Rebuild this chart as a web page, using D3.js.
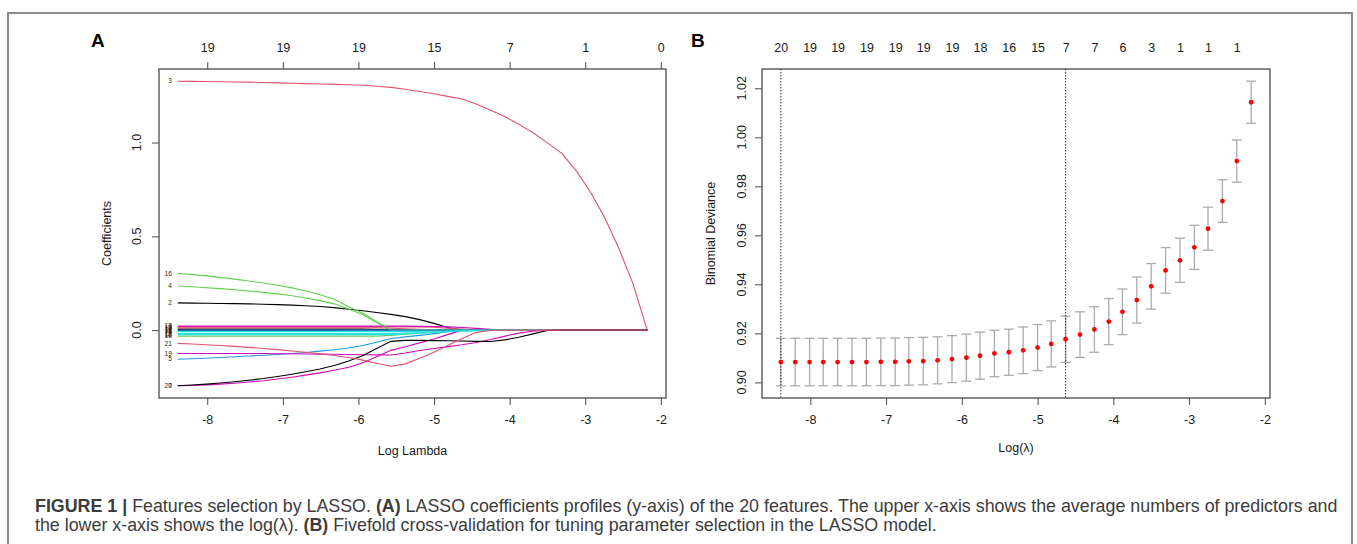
<!DOCTYPE html>
<html>
<head>
<meta charset="utf-8">
<script src="https://cdn.jsdelivr.net/npm/d3@7"></script>
<style>
  html, body { margin: 0; padding: 0; background: #fff; }
  svg { display: block; }
</style>
</head>
<body>
<svg id="fig" width="1357" height="544"></svg>
<script>
// ---- lambda path shared by the coefficient profiles and the CV curve ----
const logLambda = [-8.39, -8.20, -8.01, -7.83, -7.64, -7.45, -7.26, -7.07, -6.88, -6.70,
  -6.51, -6.32, -6.13, -5.94, -5.76, -5.57, -5.38, -5.19, -5.00, -4.82,
  -4.63, -4.44, -4.25, -4.06, -3.88, -3.69, -3.50, -3.31, -3.12, -2.93,
  -2.75, -2.56, -2.37, -2.18];

// ---- panel A: coefficient profiles, one array per feature ----
const coef2  = [0.145, 0.144, 0.143, 0.142, 0.141, 0.140, 0.138, 0.136, 0.133, 0.130, 0.126, 0.120, 0.111, 0.103, 0.094, 0.084, 0.072, 0.056, 0.036, 0.014, 0, 0, 0, 0, 0, 0, 0, 0, 0, 0, 0, 0, 0, 0];
const coef3  = [1.327, 1.326, 1.325, 1.324, 1.323, 1.322, 1.320, 1.318, 1.316, 1.314, 1.312, 1.310, 1.308, 1.305, 1.300, 1.294, 1.284, 1.272, 1.260, 1.246, 1.232, 1.205, 1.172, 1.137, 1.098, 1.052, 0.998, 0.942, 0.850, 0.735, 0.605, 0.440, 0.249, 0];
const coef4  = [0.235, 0.231, 0.226, 0.221, 0.215, 0.208, 0.201, 0.193, 0.183, 0.171, 0.157, 0.140, 0.112, 0.082, 0.040, 0, 0, 0, 0, 0, 0, 0, 0, 0, 0, 0, 0, 0, 0, 0, 0, 0, 0, 0];
const coef5  = [-0.155, -0.153, -0.150, -0.146, -0.142, -0.138, -0.134, -0.130, -0.125, -0.119, -0.112, -0.105, -0.095, -0.082, -0.065, -0.045, -0.036, -0.028, -0.019, -0.009, 0, 0, 0, 0, 0, 0, 0, 0, 0, 0, 0, 0, 0, 0];
const coef6  = [-0.008, -0.008, -0.008, -0.008, -0.008, -0.008, -0.008, -0.008, -0.008, -0.008, -0.008, -0.008, -0.008, -0.008, -0.008, -0.008, -0.008, -0.007, -0.006, -0.005, -0.004, -0.003, -0.002, -0.001, 0, 0, 0, 0, 0, 0, 0, 0, 0, 0];
const coef7  = [-0.297, -0.295, -0.292, -0.288, -0.283, -0.277, -0.270, -0.261, -0.251, -0.240, -0.228, -0.214, -0.198, -0.174, -0.142, -0.108, -0.089, -0.068, -0.047, -0.024, 0, 0, 0, 0, 0, 0, 0, 0, 0, 0, 0, 0, 0, 0];
const coef8  = [-0.002, -0.002, -0.002, -0.002, -0.002, -0.002, -0.002, -0.002, -0.002, -0.002, -0.002, -0.002, -0.001, 0, 0, 0, 0, 0, 0, 0, 0, 0, 0, 0, 0, 0, 0, 0, 0, 0, 0, 0, 0, 0];
const coef9  = [0.017, 0.017, 0.017, 0.017, 0.017, 0.017, 0.017, 0.017, 0.017, 0.017, 0.017, 0.017, 0.017, 0.017, 0.017, 0.017, 0.017, 0.017, 0.015, 0.010, 0.005, 0, 0, 0, 0, 0, 0, 0, 0, 0, 0, 0, 0, 0];
const coef10 = [-0.032, -0.032, -0.032, -0.032, -0.032, -0.032, -0.032, -0.032, -0.032, -0.032, -0.032, -0.032, -0.032, -0.032, -0.032, -0.028, -0.022, -0.016, -0.010, -0.005, -0.001, 0, 0, 0, 0, 0, 0, 0, 0, 0, 0, 0, 0, 0];
const coef11 = [0.003, 0.003, 0.003, 0.003, 0.003, 0.003, 0.003, 0.003, 0.003, 0.003, 0.003, 0.003, 0.003, 0.003, 0.003, 0.003, 0.003, 0.003, 0.003, 0.002, 0.001, 0, 0, 0, 0, 0, 0, 0, 0, 0, 0, 0, 0, 0];
const coef12 = [-0.018, -0.018, -0.018, -0.018, -0.018, -0.018, -0.018, -0.018, -0.018, -0.018, -0.018, -0.018, -0.018, -0.018, -0.018, -0.018, -0.016, -0.013, -0.010, -0.007, -0.004, -0.002, -0.001, 0, 0, 0, 0, 0, 0, 0, 0, 0, 0, 0];
const coef13 = [0.021, 0.021, 0.021, 0.021, 0.021, 0.021, 0.021, 0.021, 0.021, 0.021, 0.021, 0.021, 0.021, 0.021, 0.021, 0.021, 0.021, 0.020, 0.019, 0.017, 0.014, 0.009, 0.004, 0.001, 0, 0, 0, 0, 0, 0, 0, 0, 0, 0];
const coef14 = [0.005, 0.005, 0.005, 0.005, 0.005, 0.005, 0.005, 0.005, 0.005, 0.005, 0.005, 0.005, 0.005, 0.005, 0.003, 0.001, 0, 0, 0, 0, 0, 0, 0, 0, 0, 0, 0, 0, 0, 0, 0, 0, 0, 0];
const coef15 = [0.012, 0.012, 0.012, 0.012, 0.012, 0.012, 0.012, 0.012, 0.012, 0.012, 0.012, 0.012, 0.012, 0.012, 0.012, 0.010, 0.007, 0.004, 0.001, 0, 0, 0, 0, 0, 0, 0, 0, 0, 0, 0, 0, 0, 0, 0];
const coef16 = [0.302, 0.296, 0.289, 0.281, 0.272, 0.262, 0.251, 0.239, 0.225, 0.208, 0.188, 0.164, 0.125, 0.090, 0.045, 0, 0, 0, 0, 0, 0, 0, 0, 0, 0, 0, 0, 0, 0, 0, 0, 0, 0, 0];
const coef17 = [-0.001, 0, 0, 0, 0, 0, 0, 0, 0, 0, 0, 0, 0, 0, 0, 0, 0, 0, 0, 0, 0, 0, 0, 0, 0, 0, 0, 0, 0, 0, 0, 0, 0, 0];
const coef18 = [-0.024, -0.024, -0.024, -0.024, -0.024, -0.024, -0.024, -0.024, -0.024, -0.024, -0.024, -0.024, -0.024, -0.024, -0.024, -0.024, -0.021, -0.017, -0.013, -0.008, -0.004, -0.002, -0.001, 0, 0, 0, 0, 0, 0, 0, 0, 0, 0, 0];
const coef19 = [-0.125, -0.125, -0.125, -0.125, -0.125, -0.125, -0.125, -0.126, -0.126, -0.127, -0.128, -0.129, -0.130, -0.131, -0.132, -0.133, -0.122, -0.109, -0.098, -0.088, -0.078, -0.066, -0.050, -0.032, -0.016, -0.006, -0.001, 0, 0, 0, 0, 0, 0, 0];
const coef20 = [-0.297, -0.293, -0.288, -0.282, -0.275, -0.267, -0.258, -0.247, -0.235, -0.222, -0.207, -0.189, -0.165, -0.135, -0.098, -0.060, -0.055, -0.055, -0.056, -0.057, -0.058, -0.060, -0.061, -0.052, -0.038, -0.020, -0.002, 0, 0, 0, 0, 0, 0, 0];
const coef21 = [-0.071, -0.074, -0.078, -0.082, -0.087, -0.092, -0.098, -0.104, -0.111, -0.118, -0.126, -0.135, -0.146, -0.160, -0.177, -0.193, -0.180, -0.150, -0.118, -0.082, -0.045, -0.012, -0.002, 0, 0, 0, 0, 0, 0, 0, 0, 0, 0, 0];

const featureLabels = ["2", "3", "4", "5", "6", "7", "8", "9", "10", "11", "12", "13", "14", "15", "16", "17", "18", "19", "20", "21"];
const featureCoefs = [coef2, coef3, coef4, coef5, coef6, coef7, coef8, coef9, coef10, coef11,
  coef12, coef13, coef14, coef15, coef16, coef17, coef18, coef19, coef20, coef21];

// upper axis of panel A: number of non-zero coefficients at whole log-lambda values
const lambdaTicks = [-8, -7, -6, -5, -4, -3, -2];
const dfAtTicks = [19, 19, 19, 15, 7, 1, 0];

// ---- panel B: cross-validated binomial deviance ----
const cvMean = [0.9083, 0.9083, 0.9083, 0.9083, 0.9083, 0.9083, 0.9083, 0.9084, 0.9084, 0.9086,
  0.9087, 0.9090, 0.9095, 0.9101, 0.9109, 0.9118, 0.9123, 0.9131, 0.9142, 0.9157,
  0.9176, 0.9195, 0.9216, 0.9248, 0.9288, 0.9336, 0.9392, 0.9457, 0.9498, 0.9551,
  0.9627, 0.9740, 0.9903, 1.0143];
const cvSE = [0.0097, 0.0097, 0.0097, 0.0097, 0.0097, 0.0097, 0.0097, 0.0097, 0.0097, 0.0097,
  0.0097, 0.0096, 0.0096, 0.0096, 0.0096, 0.0095, 0.0094, 0.0095, 0.0094, 0.0094,
  0.0094, 0.0093, 0.0093, 0.0094, 0.0093, 0.0094, 0.0093, 0.0093, 0.0090, 0.0090,
  0.0088, 0.0087, 0.0086, 0.0086];
// non-zero counts printed above every second lambda
const cvNonzero = [20, 19, 19, 19, 19, 19, 19, 18, 16, 15, 7, 7, 6, 3, 1, 1, 1];
const lambdaMin = -8.39;
const lambda1se = -4.63;

const devTicks = [0.90, 0.92, 0.94, 0.96, 0.98, 1.00, 1.02];
const coefTicks = [0, 0.5, 1.0];

// ---- drawing ----
const svg = d3.select("#fig");
const FONT = '"Liberation Sans", Arial, Helvetica, sans-serif';
const palette = ["#000000", "#DF536B", "#61D04F", "#2297E6", "#28E2E5", "#CD0BBC"];
const boxColor = "#4a4a4a";
const intLabel = d => String(d);   // plain hyphen minus, as in R output

// outer frame of the figure
svg.append("rect")
  .attr("x", 8).attr("y", 13).attr("width", 1344).attr("height", 600)
  .attr("fill", "none").attr("stroke", "#8c8c8c").attr("stroke-width", 2);

// R-style axis limits: data range widened by 4% each side
function padRange(ext) {
  const d = ext[1] - ext[0];
  return [ext[0] - 0.04 * d, ext[1] + 0.04 * d];
}

function styleAxis(g) {
  g.select(".domain").remove();
  g.selectAll(".tick line").attr("stroke", boxColor).attr("stroke-width", 1);
  g.selectAll(".tick text").attr("fill", "#1a1a1a")
    .style("font-family", FONT).style("font-size", "12.5px");
}

// y tick labels written parallel to the axis
function rotatedLeftLabels(scale, values, fmt, xPos) {
  const g = svg.append("g");
  g.selectAll("text").data(values).enter().append("text")
    .attr("transform", d => `translate(${xPos},${scale(d)}) rotate(-90)`)
    .attr("text-anchor", "middle").attr("dy", "0.35em")
    .style("font-family", FONT).style("font-size", "12.5px").attr("fill", "#1a1a1a")
    .text(fmt);
}

function frameBox(b) {
  svg.append("rect")
    .attr("x", b.left).attr("y", b.top)
    .attr("width", b.right - b.left).attr("height", b.bottom - b.top)
    .attr("fill", "none").attr("stroke", boxColor).attr("stroke-width", 1.3);
}

// ===== Panel A =====
const A = { left: 159, right: 666, top: 69, bottom: 398 };
const xA = d3.scaleLinear().domain(padRange(d3.extent(logLambda))).range([A.left, A.right]);
const yA = d3.scaleLinear().domain(padRange(d3.extent(featureCoefs.flat()))).range([A.bottom, A.top]);

const gA = svg.append("g");
const lineA = d3.line().x((d, i) => xA(logLambda[i])).y(d => yA(d));
featureCoefs.forEach((vals, j) => {
  gA.append("path")
    .attr("d", lineA(vals))
    .attr("fill", "none")
    .attr("stroke", palette[j % 6])
    .attr("stroke-width", 1.1);
});

// feature labels at the left end of each path
featureCoefs.forEach((vals, j) => {
  gA.append("text")
    .attr("x", xA(logLambda[0]) - 6)
    .attr("y", yA(vals[0]))
    .attr("dy", "0.35em")
    .attr("text-anchor", "end")
    .style("font-family", FONT).style("font-size", "6.5px")
    .attr("fill", "#222")
    .text(featureLabels[j]);
});

frameBox(A);

svg.append("g").attr("transform", `translate(0,${A.bottom})`)
  .call(d3.axisBottom(xA).tickValues(lambdaTicks).tickSize(7).tickPadding(10).tickFormat(intLabel))
  .call(styleAxis);
svg.append("g").attr("transform", `translate(0,${A.top})`)
  .call(d3.axisTop(xA).tickValues(lambdaTicks).tickSize(7).tickPadding(10)
    .tickFormat((d, i) => dfAtTicks[i]))
  .call(styleAxis);
svg.append("g").attr("transform", `translate(${A.left},0)`)
  .call(d3.axisLeft(yA).tickValues(coefTicks).tickSize(7).tickFormat(""))
  .call(styleAxis);
rotatedLeftLabels(yA, coefTicks, d3.format(".1f"), 137);

svg.append("text")
  .attr("x", (A.left + A.right) / 2).attr("y", 455)
  .attr("text-anchor", "middle")
  .style("font-family", FONT).style("font-size", "12.5px").attr("fill", "#1a1a1a")
  .text("Log Lambda");
svg.append("text")
  .attr("transform", `translate(107,${(A.top + A.bottom) / 2}) rotate(-90)`)
  .attr("text-anchor", "middle").attr("dy", "0.35em")
  .style("font-family", FONT).style("font-size", "12.5px").attr("fill", "#1a1a1a")
  .text("Coefficients");
svg.append("text")
  .attr("x", 91).attr("y", 47)
  .style("font-family", FONT).style("font-size", "19px").style("font-weight", "bold")
  .text("A");

// ===== Panel B =====
const B = { left: 762, right: 1270, top: 69, bottom: 398 };
const cvUpper = cvMean.map((m, i) => m + cvSE[i]);
const cvLower = cvMean.map((m, i) => m - cvSE[i]);
const xB = d3.scaleLinear().domain(padRange(d3.extent(logLambda))).range([B.left, B.right]);
const yB = d3.scaleLinear().domain(padRange([d3.min(cvLower), d3.max(cvUpper)])).range([B.bottom, B.top]);

const gB = svg.append("g");
const barColor = "#ababab";
const capHalf = 5;
logLambda.forEach((l, i) => {
  const x = xB(l);
  gB.append("line").attr("x1", x).attr("x2", x)
    .attr("y1", yB(cvUpper[i])).attr("y2", yB(cvLower[i]))
    .attr("stroke", barColor).attr("stroke-width", 1.3);
  [cvUpper[i], cvLower[i]].forEach(v => {
    gB.append("line").attr("x1", x - capHalf).attr("x2", x + capHalf)
      .attr("y1", yB(v)).attr("y2", yB(v))
      .attr("stroke", barColor).attr("stroke-width", 1.3);
  });
});

// reference lines at lambda.min and lambda.1se
[lambdaMin, lambda1se].forEach(l => {
  gB.append("line")
    .attr("x1", xB(l)).attr("x2", xB(l))
    .attr("y1", B.top).attr("y2", B.bottom)
    .attr("stroke", "#333").attr("stroke-width", 1)
    .attr("stroke-dasharray", "1.5,1.5");
});

gB.selectAll("circle").data(cvMean).enter().append("circle")
  .attr("cx", (d, i) => xB(logLambda[i]))
  .attr("cy", d => yB(d))
  .attr("r", 2.4)
  .attr("fill", "#ff0000");

frameBox(B);

const cvLabelLambda = logLambda.filter((d, i) => i % 2 === 0);
svg.append("g").attr("transform", `translate(0,${B.bottom})`)
  .call(d3.axisBottom(xB).tickValues(lambdaTicks).tickSize(7).tickPadding(10).tickFormat(intLabel))
  .call(styleAxis);
svg.append("g").attr("transform", `translate(0,${B.top})`)
  .call(d3.axisTop(xB).tickValues(cvLabelLambda).tickSize(0).tickPadding(17)
    .tickFormat((d, i) => cvNonzero[i]))
  .call(styleAxis);
svg.append("g").attr("transform", `translate(${B.left},0)`)
  .call(d3.axisLeft(yB).tickValues(devTicks).tickSize(7).tickFormat(""))
  .call(styleAxis);
rotatedLeftLabels(yB, devTicks, d3.format(".2f"), 742);

svg.append("text")
  .attr("x", (B.left + B.right) / 2).attr("y", 452)
  .attr("text-anchor", "middle")
  .style("font-family", FONT).style("font-size", "12.5px").attr("fill", "#1a1a1a")
  .text("Log(λ)");
svg.append("text")
  .attr("transform", `translate(711,${(B.top + B.bottom) / 2}) rotate(-90)`)
  .attr("text-anchor", "middle").attr("dy", "0.35em")
  .style("font-family", FONT).style("font-size", "12.5px").attr("fill", "#1a1a1a")
  .text("Binomial Deviance");
svg.append("text")
  .attr("x", 691).attr("y", 47)
  .style("font-family", FONT).style("font-size", "19px").style("font-weight", "bold")
  .text("B");

// ===== Caption =====
const captionLines = [
  [["FIGURE 1 |", true], [" Features selection by LASSO. ", false], ["(A)", true],
   [" LASSO coefficients profiles (y-axis) of the 20 features. The upper x-axis shows the average numbers of predictors and", false]],
  [["the lower x-axis shows the log(λ). ", false], ["(B)", true],
   [" Fivefold cross-validation for tuning parameter selection in the LASSO model.", false]]
];
const capX = 35;
const capBaselines = [512, 531];
const capTexts = captionLines.map((parts, k) => {
  const t = svg.append("text")
    .attr("x", capX).attr("y", capBaselines[k])
    .style("font-family", FONT).style("font-size", "15px")
    .attr("fill", "#3c3c3c")
    .attr("xml:space", "preserve");
  parts.forEach(([str, bold]) => {
    t.append("tspan").style("font-weight", bold ? "bold" : "normal").text(str);
  });
  return t;
});
// size the caption so its first line spans the text block width
const w0 = capTexts[0].node().getComputedTextLength();
const capSize = 15 * (1303 / w0);
capTexts.forEach(t => t.style("font-size", capSize.toFixed(2) + "px"));
</script>
</body>
</html>
